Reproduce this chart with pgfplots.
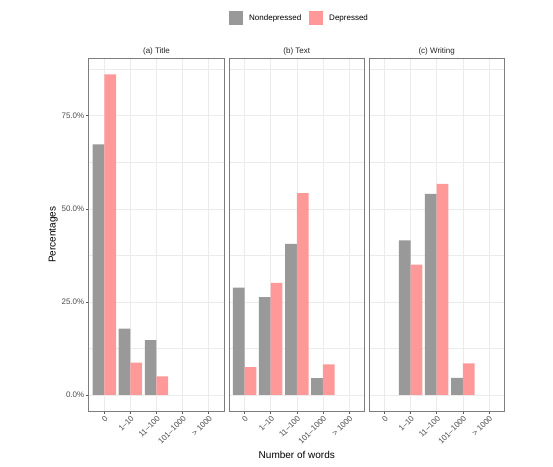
\documentclass[border=0pt]{standalone}
\usepackage{pgfplots}
\pgfplotsset{compat=1.18}
\usepackage{fontspec}
\setmainfont{Liberation Sans}
\definecolor{nondep}{RGB}{153,153,153}
\definecolor{dep}{RGB}{255,153,153}
\definecolor{gridgray}{RGB}{235,235,235}
\definecolor{bordergray}{RGB}{125,125,125}
\definecolor{ticklab}{RGB}{77,77,77}
\pgfplotsset{
  panel/.style={
    scale only axis, width=135.6pt, height=352.7pt,
    xmin=0.4, xmax=5.6, ymin=-4.3, ymax=90.4,
    xtick={1,2,3,4,5},
    xticklabels={0,1--10,11--100,101--1000,{> 1000}},
    ytick={0,25,50,75},
    minor ytick={12.5,37.5,62.5,87.5},
    grid=both,
    major grid style={draw=gridgray, line width=0.5pt},
    minor grid style={draw=gridgray, line width=0.3pt},
    axis line style={draw=bordergray, line width=0.5pt},
    tick align=outside, tick pos=left,
    major tick length=2.75pt, minor tick length=0pt,
    tick style={draw=black!65, line width=0.5pt},
    xticklabel style={rotate=45, anchor=north east, font=\fontsize{8}{9}\selectfont, text=ticklab, inner sep=1pt},
    yticklabel style={font=\fontsize{8}{9}\selectfont, text=ticklab, inner sep=1.5pt},
    title style={font=\fontsize{8}{9}\selectfont, text=black!85, at={(0.5,1)}, anchor=south, yshift=-6pt},
    axis background/.style={fill=white},
  },
  nd/.style={ybar, bar width=0.45, bar shift=-0.225, fill=nondep, draw=none},
  de/.style={ybar, bar width=0.45, bar shift=0.225, fill=dep, draw=none},
}
\begin{document}
\begin{tikzpicture}
\path[use as bounding box, fill=white] (0,0) rectangle (553pt,466pt);
% (a) Title
\begin{axis}[panel, at={(88.7pt,55pt)}, anchor=south west,
  title={(a) Title},
  yticklabels={0.0\%,25.0\%,50.0\%,75.0\%},
  ylabel={Percentages},
  ylabel style={font=\fontsize{10}{12}\selectfont, at={(axis description cs:-0.262,0.5)}, anchor=center, rotate=0},
  legend style={at={(axis description cs:1.555,1.113)}, anchor=center, draw=none, fill=none,
    legend columns=2, font=\fontsize{8}{9}\selectfont,
    /tikz/every odd column/.append style={column sep=4pt},
    /tikz/every even column/.append style={column sep=6pt}},
  legend cell align=left,
]
\addplot[nd, legend image code/.code={\fill[nondep] (0pt,-7pt) rectangle (14pt,7pt);}] coordinates {(1,67.3) (2,17.8) (3,14.7)};
\addplot[de, legend image code/.code={\fill[dep] (0pt,-7pt) rectangle (14pt,7pt);}] coordinates {(1,86.1) (2,8.7) (3,5.0)};
\legend{Nondepressed, Depressed}
\end{axis}
% (b) Text
\begin{axis}[panel, at={(229pt,55pt)}, anchor=south west,
  title={(b) Text},
  yticklabels={}, ytick style={draw=none},
  xlabel={Number of words},
  xlabel style={font=\fontsize{10}{12}\selectfont, at={(axis description cs:0.5,-0.1248)}, anchor=center},
]
\addplot[nd] coordinates {(1,28.8) (2,26.3) (3,40.6) (4,4.5)};
\addplot[de] coordinates {(1,7.5) (2,30.1) (3,54.2) (4,8.2)};
\end{axis}
% (c) Writing
\begin{axis}[panel, at={(368.9pt,55pt)}, anchor=south west,
  title={(c) Writing},
  yticklabels={}, ytick style={draw=none},
]
\addplot[nd] coordinates {(2,41.5) (3,54.0) (4,4.6)};
\addplot[de] coordinates {(2,35.0) (3,56.7) (4,8.5)};
\end{axis}
\end{tikzpicture}
\end{document}
